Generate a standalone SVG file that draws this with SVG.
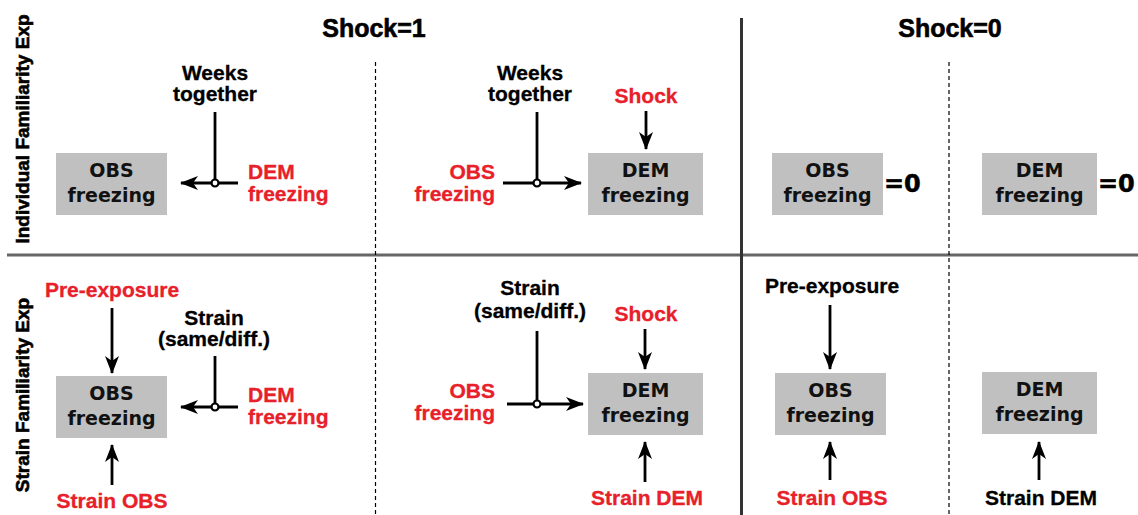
<svg xmlns="http://www.w3.org/2000/svg" width="1138" height="515" viewBox="0 0 1138 515">
<style>
.lbl{font-family:"Liberation Sans",Arial,sans-serif;font-weight:bold;font-size:21px;fill:#000;stroke:#000;stroke-width:0.3}
.red{fill:#e8202a;stroke:#e8202a}
.title{font-family:"Liberation Sans",Arial,sans-serif;font-weight:bold;font-size:25px;fill:#000;stroke:#000;stroke-width:0.6}
.row{font-family:"Liberation Sans",Arial,sans-serif;font-weight:bold;font-size:19px;fill:#000;stroke:#000;stroke-width:0.6}
.box{fill:#c0c0c0}
.bt{font-family:"DejaVu Sans",sans-serif;font-weight:bold;font-size:19px;fill:#111;text-anchor:middle}
.eq{font-family:"DejaVu Sans",sans-serif;font-weight:bold;font-size:24px;fill:#000;stroke:#000;stroke-width:0.5}
.c{text-anchor:middle}
.e{text-anchor:end}
.ln{stroke:#000;stroke-width:2.8;fill:none}
.arr{stroke:#000;stroke-width:2.8;fill:none;marker-end:url(#ah)}
.jn{stroke:#000;stroke-width:2.2;fill:#fff}
.dash{stroke:#000;stroke-width:1.2;stroke-dasharray:4 3;fill:none}
</style>
<defs>
<marker id="ah" viewBox="0 0 18 14" refX="17" refY="7" markerWidth="18" markerHeight="14" markerUnits="userSpaceOnUse" orient="auto">
<path d="M0,0 L18,7 L0,14 L5,7 z" fill="#000"/>
</marker>
</defs>
<rect width="1138" height="515" fill="#fff"/>

<g id="frame">
<line x1="7" y1="255" x2="1138" y2="255" stroke="#666" stroke-width="3"/>
<line x1="741.5" y1="18" x2="741.5" y2="515" stroke="#333" stroke-width="3"/>
<line x1="375.5" y1="62" x2="375.5" y2="515" class="dash"/>
<line x1="949" y1="62" x2="949" y2="515" class="dash"/>
<text class="title c" x="374" y="37">Shock=1</text>
<text class="title c" x="950" y="37">Shock=0</text>
<text class="row c" transform="translate(29,129) rotate(-90)">Individual Familiarity Exp</text>
<text class="row c" transform="translate(29,395) rotate(-90)">Strain Familiarity Exp</text>
</g>

<g id="connectors">
<line class="ln" x1="215" y1="112" x2="215" y2="183"/>
<line class="arr" x1="238" y1="183" x2="181" y2="183"/>
<circle class="jn" cx="215" cy="183" r="3.5"/>
<line class="ln" x1="537" y1="112" x2="537" y2="183"/>
<line class="arr" x1="503" y1="183" x2="581" y2="183"/>
<circle class="jn" cx="537" cy="183" r="3.5"/>
<line class="arr" x1="646" y1="111" x2="646" y2="149"/>
<line class="arr" x1="112" y1="308" x2="112" y2="373"/>
<line class="arr" x1="112" y1="485" x2="112" y2="445"/>
<line class="ln" x1="215" y1="356" x2="215" y2="407"/>
<line class="arr" x1="238" y1="407" x2="181" y2="407"/>
<circle class="jn" cx="215" cy="407" r="3.5"/>
<line class="ln" x1="537" y1="331" x2="537" y2="404"/>
<line class="arr" x1="507" y1="404" x2="583" y2="404"/>
<circle class="jn" cx="537" cy="404" r="3.5"/>
<line class="arr" x1="645" y1="329" x2="645" y2="369"/>
<line class="arr" x1="645" y1="482" x2="645" y2="442"/>
<line class="arr" x1="830" y1="305" x2="830" y2="369"/>
<line class="arr" x1="830" y1="480" x2="830" y2="442"/>
<line class="arr" x1="1039" y1="480" x2="1039" y2="442"/>
</g>

<g id="t1-obs"><rect class="box" x="56" y="153" width="111" height="62"/><text class="bt" x="111.5" y="177">OBS</text><text class="bt" x="111.5" y="202">freezing</text></g>
<g id="t1-weeks"><text class="lbl c" x="215" y="80">Weeks</text><text class="lbl c" x="215" y="101">together</text></g>
<g id="t1-dem"><text class="lbl red" x="248" y="179">DEM</text><text class="lbl red" x="248" y="201">freezing</text></g>

<g id="t2-dem"><rect class="box" x="588" y="153" width="115" height="62"/><text class="bt" x="645.5" y="177">DEM</text><text class="bt" x="645.5" y="202">freezing</text></g>
<g id="t2-weeks"><text class="lbl c" x="530" y="80">Weeks</text><text class="lbl c" x="530" y="101">together</text></g>
<g id="t2-obs"><text class="lbl red e" x="495" y="179">OBS</text><text class="lbl red e" x="495" y="201">freezing</text></g>
<g id="t2-shock"><text class="lbl red c" x="646" y="103">Shock</text></g>

<g id="t3-obs"><rect class="box" x="772" y="153" width="111" height="62"/><text class="bt" x="827.5" y="177">OBS</text><text class="bt" x="827.5" y="202">freezing</text><text class="eq" x="884" y="192">=0</text></g>
<g id="t4-dem"><rect class="box" x="982" y="153" width="115" height="62"/><text class="bt" x="1039.5" y="177">DEM</text><text class="bt" x="1039.5" y="202">freezing</text><text class="eq" x="1098" y="192">=0</text></g>

<g id="b1-obs"><rect class="box" x="56" y="376" width="111" height="62"/><text class="bt" x="111.5" y="400">OBS</text><text class="bt" x="111.5" y="425">freezing</text></g>
<g id="b1-pre"><text class="lbl red c" x="112" y="297">Pre-exposure</text></g>
<g id="b1-strainobs"><text class="lbl red c" x="112" y="508">Strain OBS</text></g>
<g id="b1-strain"><text class="lbl c" x="214" y="325">Strain</text><text class="lbl c" x="214" y="346">(same/diff.)</text></g>
<g id="b1-dem"><text class="lbl red" x="248" y="402">DEM</text><text class="lbl red" x="248" y="424">freezing</text></g>

<g id="b2-dem"><rect class="box" x="588" y="373" width="115" height="62"/><text class="bt" x="645.5" y="397">DEM</text><text class="bt" x="645.5" y="422">freezing</text></g>
<g id="b2-strain"><text class="lbl c" x="530" y="295">Strain</text><text class="lbl c" x="530" y="318">(same/diff.)</text></g>
<g id="b2-shock"><text class="lbl red c" x="646" y="321">Shock</text></g>
<g id="b2-obs"><text class="lbl red e" x="495" y="398">OBS</text><text class="lbl red e" x="495" y="420">freezing</text></g>
<g id="b2-straindem"><text class="lbl red c" x="647" y="505">Strain DEM</text></g>

<g id="b3-obs"><rect class="box" x="775" y="373" width="111" height="62"/><text class="bt" x="830.5" y="397">OBS</text><text class="bt" x="830.5" y="422">freezing</text></g>
<g id="b3-pre"><text class="lbl c" x="832" y="293">Pre-exposure</text></g>
<g id="b3-strainobs"><text class="lbl red c" x="832" y="505">Strain OBS</text></g>

<g id="b4-dem"><rect class="box" x="982" y="372" width="115" height="62"/><text class="bt" x="1039.5" y="396">DEM</text><text class="bt" x="1039.5" y="421">freezing</text></g>
<g id="b4-straindem"><text class="lbl c" x="1041" y="505">Strain DEM</text></g>
</svg>
